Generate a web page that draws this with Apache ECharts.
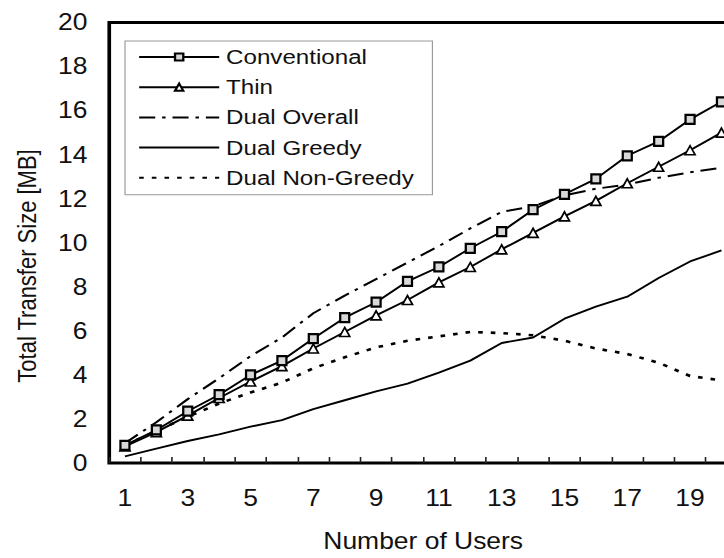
<!DOCTYPE html>
<html>
<head>
<meta charset="utf-8">
<style>
  html, body { margin: 0; padding: 0; background: #fff; overflow: hidden; width: 724px; height: 558px; }
  /* the figure uses a horizontally widened lettering, so the drawing is stretched along x */
  #chart { width: 650px; height: 558px; transform: scaleX(1.15); transform-origin: 0 0; }
</style>
<script src="https://cdn.jsdelivr.net/npm/echarts@6/dist/echarts.min.js"></script>
</head>
<body>
<div id="chart"></div>
<script>
// Number of users on the x axis
const users = ['1','2','3','4','5','6','7','8','9','10','11','12','13','14','15','16','17','18','19','20'];

// Total transfer size [MB] per scheme
const conventional  = [0.8, 1.5, 2.35, 3.1, 4.0, 4.65, 5.65, 6.6, 7.3, 8.25, 8.9, 9.75, 10.5, 11.5, 12.2, 12.9, 13.95, 14.6, 15.6, 16.4];
const thin          = [0.75, 1.4, 2.15, 2.95, 3.7, 4.4, 5.2, 5.95, 6.7, 7.4, 8.2, 8.9, 9.7, 10.45, 11.2, 11.9, 12.7, 13.45, 14.2, 15.0];
const dualOverall   = [0.9, 1.85, 2.9, 3.85, 4.85, 5.7, 6.8, 7.6, 8.35, 9.1, 9.85, 10.65, 11.4, 11.65, 12.15, 12.45, 12.65, 12.95, 13.2, 13.4];
const dualGreedy    = [0.3, 0.65, 1.0, 1.3, 1.65, 1.95, 2.45, 2.85, 3.25, 3.6, 4.1, 4.65, 5.45, 5.7, 6.55, 7.1, 7.55, 8.4, 9.15, 9.65];
const dualNonGreedy = [0.8, 1.45, 2.1, 2.7, 3.2, 3.65, 4.3, 4.8, 5.25, 5.55, 5.75, 5.95, 5.9, 5.8, 5.55, 5.2, 4.95, 4.55, 3.95, 3.75];

const seriesNames = ['Conventional', 'Thin', 'Dual Overall', 'Dual Greedy', 'Dual Non-Greedy'];
const yTitle = 'Total Transfer Size [MB]';
const xTitle = 'Number of Users';

// y axis range and step
const yMin = 0, yMax = 20, yStep = 2;

const SX = 1.15;           // horizontal stretch applied to the container
const FONT = 'Liberation Sans, Arial, sans-serif';
const INK = '#111';

const chart = echarts.init(document.getElementById('chart'), null, { renderer: 'svg' });

chart.setOption({
  animation: false,
  backgroundColor: '#fff',
  textStyle: { fontFamily: FONT, color: INK },
  grid: {
    left: 95, right: 9, top: 22.5, bottom: 92,
    show: true, borderColor: '#000', borderWidth: 3.2, backgroundColor: 'transparent'
  },
  // rotated y-axis title, placed a little below the plot's middle
  graphic: [{
    type: 'text',
    x: 23.5, y: 266,
    rotation: Math.PI / 2,
    style: {
      text: yTitle,
      fontFamily: FONT, fontSize: 22, fill: INK,
      textAlign: 'center', textVerticalAlign: 'middle'
    }
  }],
  legend: {
    orient: 'vertical',
    left: 108.7, top: 41,
    padding: [5.5, 16, 6.5, 11.3],
    itemWidth: 69.6, itemHeight: 9, itemGap: 9.2,
    borderColor: '#999', borderWidth: 1,
    backgroundColor: '#fff',
    data: [
      { name: seriesNames[0] },
      { name: seriesNames[1] },
      // plain line samples for the series drawn without markers
      { name: seriesNames[2], itemStyle: { opacity: 0 } },
      { name: seriesNames[3], itemStyle: { opacity: 0 } },
      { name: seriesNames[4], itemStyle: { opacity: 0 } }
    ],
    textStyle: { fontFamily: FONT, fontSize: 21, color: INK, lineHeight: 21, padding: [0, 0, 0, 1] }
  },
  xAxis: {
    type: 'category',
    data: users,
    boundaryGap: true,
    name: xTitle,
    nameLocation: 'middle',
    nameGap: 67,
    nameTextStyle: { fontFamily: FONT, fontSize: 23, color: INK },
    axisLine: { show: false },
    axisTick: { show: true, inside: true, length: 6, interval: 0, alignWithLabel: false,
                lineStyle: { color: '#222', width: 1.4 } },
    axisLabel: { interval: 1, margin: 24, fontFamily: FONT, fontSize: 23, color: INK },
    splitLine: { show: false }
  },
  yAxis: {
    type: 'value',
    min: yMin, max: yMax, interval: yStep,
    axisLine: { show: false },
    axisTick: { show: false },
    axisLabel: { margin: 19, fontFamily: FONT, fontSize: 23, color: INK },
    splitLine: { show: false }
  },
  series: [
    {
      name: seriesNames[0], type: 'line', data: conventional,
      symbol: 'rect', symbolSize: [9 / SX, 9], showAllSymbol: true,
      lineStyle: { color: '#000', width: 1.9 },
      itemStyle: { color: '#d8d8d8', borderColor: '#000', borderWidth: 2.1 },
      z: 5
    },
    {
      name: seriesNames[1], type: 'line', data: thin,
      symbol: 'triangle', symbolSize: [10 / SX, 9], showAllSymbol: true,
      lineStyle: { color: '#000', width: 1.9 },
      itemStyle: { color: '#fff', borderColor: '#000', borderWidth: 1.6 },
      z: 4
    },
    {
      name: seriesNames[2], type: 'line', data: dualOverall,
      symbol: 'none',
      lineStyle: { color: '#000', width: 2, type: [14, 6, 3, 6] },
      itemStyle: { color: '#000' },
      z: 3
    },
    {
      name: seriesNames[3], type: 'line', data: dualGreedy,
      symbol: 'none',
      lineStyle: { color: '#000', width: 1.9 },
      itemStyle: { color: '#000' },
      z: 3
    },
    {
      name: seriesNames[4], type: 'line', data: dualNonGreedy,
      symbol: 'none',
      lineStyle: { color: '#000', width: 2.6, type: [4, 7] },
      itemStyle: { color: '#000' },
      z: 3
    }
  ]
});
</script>
</body>
</html>
